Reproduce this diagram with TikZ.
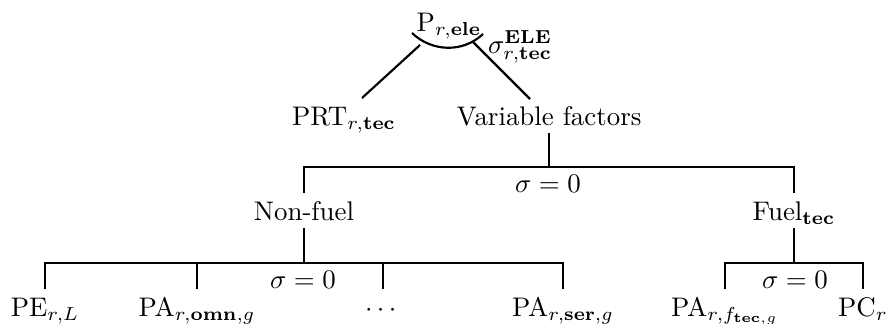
\documentclass[tikz,border=0pt]{standalone}
\usepackage{amsmath,amssymb}
\usetikzlibrary{positioning}
\tikzset{
  lbl/.style={inner sep=0pt,outer sep=0pt,anchor=base,text height=6.94pt,text depth=0pt,inner ysep=3pt},
  elas/.style={inner sep=0pt,outer sep=0pt,anchor=base west},
  link/.style={line width=0.8pt,line cap=butt},
}

\begin{document}
\begin{tikzpicture}[x=0.372pt,y=-0.372pt]
  \useasboundingbox (0,0) rectangle (890,323);
  % top nest
  \node[lbl]  (pele) at (449,31)  {$\mathrm{P}_{r,\mathbf{ele}}$};
  \node[elas] (sig)  at (488,53)  {$\sigma^{\mathbf{ELE}}_{r,\mathbf{tec}}$};
  \node[lbl]  (prt)  at (344,125) {$\mathrm{PRT}_{r,\mathbf{tec}}$};
  \node[lbl]  (vf)   at (549,125) {Variable factors};
  % second nest
  \node[lbl]  (nf)   at (304,220) {Non-fuel};
  \node[lbl]  (fuel) at (794,220) {Fuel$_{\mathbf{tec}}$};
  \node[lbl]  (s1)   at (548,192) {$\sigma=0$};
  % leaves
  \node[lbl]  (pe)    at (45,316)  {$\mathrm{PE}_{r,L}$};
  \node[lbl]  (paomn) at (197,316) {$\mathrm{PA}_{r,\mathbf{omn},g}$};
  \node[lbl]  (dots)  at (383,316) {$\cdots$};
  \node[lbl]  (paser) at (563,316) {$\mathrm{PA}_{r,\mathbf{ser},g}$};
  \node[lbl]  (paf)   at (725,316) {$\mathrm{PA}_{r,f_{\mathbf{tec},g}}$};
  \node[lbl]  (pc)    at (863,316) {$\mathrm{PC}_r$};
  \node[lbl]  (s2)    at (303,288) {$\sigma=0$};
  \node[lbl]  (s3)    at (795,288) {$\sigma=0$};

  \coordinate (tl)   at (420,45);
  \coordinate (tr)   at (473,42);
  \coordinate (bl)   at (362,98);
  \coordinate (br)   at (530,99);
  \coordinate (bar1) at (549,167);
  \coordinate (bar2) at (304,263);
  \coordinate (bar3) at (794,263);

  \draw[link] (tl) -- (bl);
  \draw[link] (tr) -- (br);
  \draw[link] (412,33) .. controls (432,52) and (463,53) .. (483,34);

  \draw[link] (vf.south) -- (bar1);
  \draw[link] (nf.north) |- (bar1) -| (fuel.north);

  \draw[link] (nf.south) -- (bar2);
  \draw[link] (pe.north) |- (bar2) -| (paser.north);
  \draw[link] (paomn.north) -- (paomn.north |- bar2);
  \draw[link] (dots.north) -- (dots.north |- bar2);

  \draw[link] (fuel.south) -- (bar3);
  \draw[link] (paf.north) |- (bar3) -| (pc.north);
\end{tikzpicture}
\end{document}
